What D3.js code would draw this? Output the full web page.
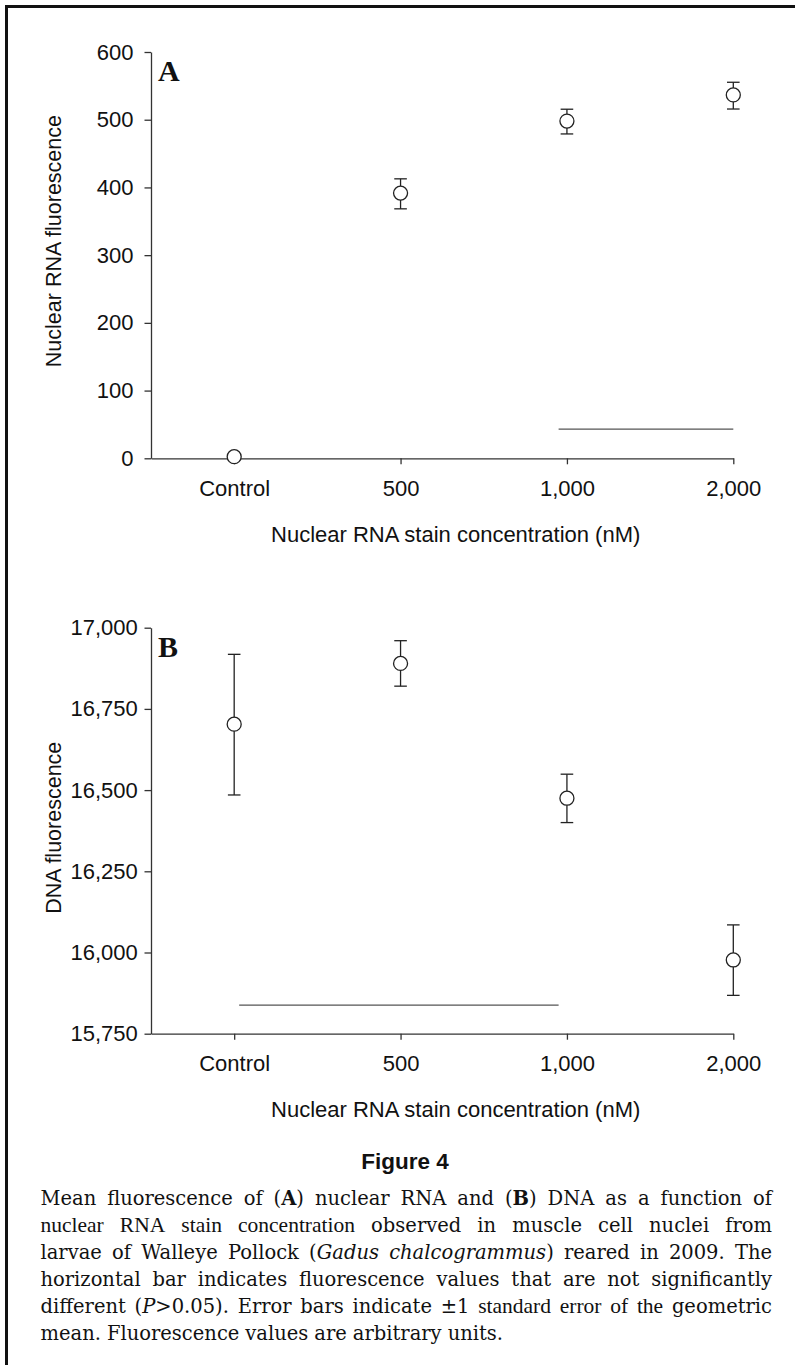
<!DOCTYPE html>
<html>
<head>
<meta charset="utf-8">
<script src="https://cdn.jsdelivr.net/npm/d3@7"></script>
<style>
  body { margin: 0; background: #fff; }
  .axis path, .axis line { stroke: #333; stroke-width: 1.3; }
  .axis text { font-family: "Liberation Sans", Arial, sans-serif; font-size: 22px; fill: #111; }
</style>
</head>
<body>
<div id="fig"></div>
<script>
const concentrations = ['Control', '500', '1,000', '2,000'];

// panel A: nuclear RNA fluorescence
const rnaMean = [2.4, 391.6, 498, 536.6];
const rnaLow = [2.4, 368.4, 479, 515.8];
const rnaHigh = [2.4, 412.7, 515.5, 555.3];
const rnaTicks = [0, 100, 200, 300, 400, 500, 600];
const rnaSame = [1.95, 3];      // extent of the "not different" bar, in category units
const rnaSameLevel = 43;

// panel B: DNA fluorescence
const dnaMean = [16703, 16890, 16475, 15977];
const dnaLow = [16485, 16820, 16400, 15868];
const dnaHigh = [16918, 16960, 16549, 16085];
const dnaTicks = [15750, 16000, 16250, 16500, 16750, 17000];
const dnaSame = [0.03, 1.95];
const dnaSameLevel = 15838;

const width = 795, height = 1365;

const svg = d3.select('#fig').append('svg')
  .attr('width', width)
  .attr('height', height)
  .attr('viewBox', [0, 0, width, height]);

svg.append('rect').attr('width', width).attr('height', height).attr('fill', '#fff');

// frame (left + top only)
svg.append('path')
  .attr('d', `M6.5,${height} V6.5 H${width}`)
  .attr('fill', 'none')
  .attr('stroke', '#111')
  .attr('stroke-width', 3);

const x = d3.scaleLinear().domain([-0.5, 3]).range([151, 733.3]);

function panel(o) {
  const y = d3.scaleLinear().domain([o.ticks[0], o.ticks[o.ticks.length - 1]]).range([o.bottom, o.top]);
  const g = svg.append('g');

  g.append('g').attr('class', 'axis')
    .attr('transform', 'translate(151,0)')
    .call(d3.axisLeft(y).tickValues(o.ticks).tickFormat(d3.format(',')).tickSize(6.5).tickSizeOuter(0).tickPadding(o.ypad));

  g.append('g').attr('class', 'axis')
    .attr('transform', `translate(0,${o.bottom})`)
    .call(d3.axisBottom(x).tickValues(d3.range(concentrations.length)).tickFormat(i => concentrations[i]).tickSize(6).tickSizeOuter(0).tickPadding(16));

  g.append('text')
    .attr('x', 455.7)
    .attr('y', o.bottom + 83.4)
    .attr('text-anchor', 'middle')
    .attr('font-family', '"Liberation Sans", Arial, sans-serif')
    .attr('font-size', 22)
    .attr('fill', '#111')
    .text('Nuclear RNA stain concentration (nM)');

  g.append('text')
    .attr('transform', `translate(60.5,${o.titleTop}) rotate(-90)`)
    .attr('text-anchor', 'end')
    .attr('font-family', '"Liberation Sans", Arial, sans-serif')
    .attr('font-size', 21.5)
    .attr('fill', '#111')
    .text(o.title);

  g.append('text')
    .attr('x', 158)
    .attr('y', o.top + o.letterDy)
    .attr('font-family', '"Liberation Serif", "Times New Roman", serif')
    .attr('font-weight', 'bold')
    .attr('font-size', 30)
    .attr('fill', '#111')
    .text(o.letter);

  // bar of non-significant groups
  g.append('line')
    .attr('x1', x(o.same[0])).attr('x2', x(o.same[1]))
    .attr('y1', y(o.sameLevel)).attr('y2', y(o.sameLevel))
    .attr('stroke', '#555')
    .attr('stroke-width', 1.2);

  const pts = o.mean.map((m, i) => ({ i, m, lo: o.low[i], hi: o.high[i] }));
  const eb = g.append('g').attr('stroke', '#222').attr('stroke-width', 1.3);
  eb.selectAll('.v').data(pts).join('line')
    .attr('x1', d => x(d.i)).attr('x2', d => x(d.i))
    .attr('y1', d => y(d.lo)).attr('y2', d => y(d.hi));
  eb.selectAll('.lo').data(pts.filter(d => d.hi > d.lo)).join('line')
    .attr('x1', d => x(d.i) - 6.3).attr('x2', d => x(d.i) + 6.3)
    .attr('y1', d => y(d.lo)).attr('y2', d => y(d.lo));
  eb.selectAll('.hi').data(pts.filter(d => d.hi > d.lo)).join('line')
    .attr('x1', d => x(d.i) - 6.3).attr('x2', d => x(d.i) + 6.3)
    .attr('y1', d => y(d.hi)).attr('y2', d => y(d.hi));

  g.selectAll('circle').data(pts).join('circle')
    .attr('cx', d => x(d.i))
    .attr('cy', d => y(d.m))
    .attr('r', 7)
    .attr('fill', '#fff')
    .attr('stroke', '#222')
    .attr('stroke-width', 1.3);
}

panel({ ticks: rnaTicks, top: 52, bottom: 458.3, ypad: 11, mean: rnaMean, low: rnaLow, high: rnaHigh,
  same: rnaSame, sameLevel: rnaSameLevel, title: 'Nuclear RNA fluorescence', titleTop: 115, letter: 'A', letterDy: 29 });

panel({ ticks: dnaTicks, top: 627.7, bottom: 1033.7, ypad: 6.8, mean: dnaMean, low: dnaLow, high: dnaHigh,
  same: dnaSame, sameLevel: dnaSameLevel, title: 'DNA fluorescence', titleTop: 741.7, letter: 'B', letterDy: 29 });

// figure caption
svg.append('text')
  .attr('x', 405)
  .attr('y', 1169)
  .attr('text-anchor', 'middle')
  .attr('font-family', '"Liberation Sans Narrow", "Arial Narrow", "Liberation Sans", sans-serif')
  .attr('font-weight', 'bold')
  .attr('font-size', 22.5)
  .attr('fill', '#111')
  .text('Figure 4');

const caption = [
  [['Mean fluorescence of (', 'n'], ['A', 'b'], [') nuclear RNA and (', 'n'], ['B', 'b'], [') DNA as a function of', 'n']],
  [['nuclear RNA stain concentration', 's'], [' observed in muscle cell nuclei from', 'n']],
  [['larvae of Walleye Pollock (', 'n'], ['Gadus chalcogrammus', 'i'], [') reared in 2009. The', 'n']],
  [['horizontal bar indicates fluorescence values that are not significantly', 'n']],
  [['different (', 'n'], ['P', 'i'], ['>0.05). Error bars indicate \u00b11 ', 'n'], ['standard error of the', 's'], [' geometric', 'n']],
  [['mean. Fluorescence values are arbitrary units.', 'n']]
];

const capStyle = {
  n: { 'font-family': '"DejaVu Serif", serif', 'font-size': 19.5 },
  b: { 'font-family': '"DejaVu Serif", serif', 'font-size': 19.5, 'font-weight': 'bold' },
  i: { 'font-family': '"DejaVu Serif", serif', 'font-size': 19.5, 'font-style': 'italic' },
  s: { 'font-family': '"Liberation Serif", serif', 'font-size': 21.5 }
};

function toWords(line) {
  const words = [[]];
  line.forEach(([t, s]) => {
    t.split(' ').forEach((part, k) => {
      if (k > 0) words.push([]);
      if (part) words[words.length - 1].push([part, s]);
    });
  });
  return words.filter(w => w.length);
}

const capLeft = 40.5, capRight = 772;
const capG = svg.append('g').attr('fill', '#111');

caption.forEach((line, li) => {
  const base = 1204.5 + li * 27;
  const words = toWords(line).map(w => {
    const t = capG.append('text').attr('y', base);
    w.forEach(([p, s]) => {
      const ts = t.append('tspan').text(p);
      Object.entries(capStyle[s]).forEach(([k, v]) => ts.attr(k, v));
    });
    return { node: t, w: t.node().getComputedTextLength() };
  });
  const total = d3.sum(words, d => d.w);
  const last = li === caption.length - 1;
  const gap = last ? 6 : (capRight - capLeft - total) / (words.length - 1);
  let cx = capLeft;
  words.forEach(d => {
    d.node.attr('x', cx);
    cx += d.w + gap;
  });
});
</script>
</body>
</html>
